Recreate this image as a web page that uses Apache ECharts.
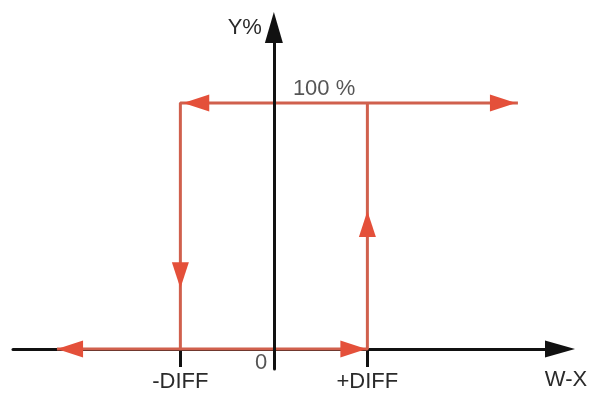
<!DOCTYPE html>
<html>
<head>
<meta charset="utf-8">
<script src="https://cdn.jsdelivr.net/npm/echarts@6/dist/echarts.min.js"></script>
<style>
html,body{margin:0;padding:0;background:#fff;}
#c{width:589px;height:394px;}
</style>
</head>
<body>
<div id="c"></div>
<script>
// Hysteresis (two-point controller) characteristic, x in units of DIFF, y in %
const xTickValues = [-1, 1];
const xTickLabels = ['-DIFF', '+DIFF'];
const originLabel = '0';
const levelLabel = '100 %';
const xName = 'W-X';
const yName = 'Y%';

// switching path: lower branch then rising edge at +DIFF
const pathRise = [[-2.32, 0], [1, 0], [1, 100]];
// upper branch then falling edge at -DIFF
const pathFall = [[2.61, 100], [-1, 100], [-1, 0]];

// arrowheads along the path: [x, y, rotation in degrees]
const arrowX = [-2.18, 0.85, -0.83, 2.45, -1, 1];
const arrowY = [0, 0, 100, 100, 30, 50.8];
const arrowRot = [90, -90, 90, -90, 180, 0];

const red = '#d0604d';
const redHead = '#e4503a';
const ink = '#111111';
const txt = '#2a2a2a';
const font = 'Liberation Sans, Arial, Helvetica, sans-serif';
const fs = 22;

const chart = echarts.init(document.getElementById('c'), null, {renderer: 'canvas'});
chart.setOption({
  animation: false,
  backgroundColor: '#ffffff',
  grid: {left: 13, right: 29, top: 27.5, bottom: 25, containLabel: false, outerBoundsMode: 'none'},
  xAxis: {
    type: 'value', min: -2.79, max: 3.06,
    splitLine: {show: false},
    axisLine: {onZero: true, lineStyle: {color: ink, width: 3}, symbol: ['none', 'triangle'], symbolSize: [17, 30]},
    axisTick: {show: true, customValues: xTickValues, length: 18, lineStyle: {color: ink, width: 3}},
    axisLabel: {
      show: true, customValues: xTickValues, margin: 2, color: txt, fontSize: fs, fontFamily: font,
      formatter: v => xTickLabels[xTickValues.indexOf(v)]
    },
    name: xName, nameLocation: 'end', nameGap: 6,
    nameTextStyle: {color: txt, fontSize: fs, fontFamily: font, align: 'center', verticalAlign: 'top', padding: [20, 0, 0, 0]}
  },
  yAxis: {
    type: 'value', min: -8.1, max: 130.7, z: 3,
    splitLine: {show: false},
    axisLine: {onZero: true, lineStyle: {color: ink, width: 3}, symbol: ['none', 'triangle'], symbolSize: [18, 31]},
    axisTick: {show: false},
    axisLabel: {show: false},
    name: yName, nameLocation: 'end', nameGap: 0,
    nameTextStyle: {color: txt, fontSize: fs, fontFamily: font, align: 'right', verticalAlign: 'middle', padding: [0, 12, 0, 0]}
  },
  series: [
    {
      type: 'line', data: pathRise, symbol: 'none', z: 2,
      lineStyle: {color: red, width: 3}
    },
    {
      type: 'line', data: pathFall, symbol: 'none', z: 2,
      lineStyle: {color: red, width: 3}
    },
    {
      type: 'scatter', z: 2,
      symbol: 'triangle', symbolSize: [17, 26],
      itemStyle: {color: redHead, opacity: 1},
      data: arrowX.map((x, i) => ({value: [x, arrowY[i]], symbolRotate: arrowRot[i]}))
    },
    {
      type: 'scatter', z: 4, symbolSize: 0, silent: true,
      data: [
        {value: [0, 100], label: {show: true, position: 'right', distance: 19, offset: [0, -14], formatter: levelLabel}},
        {value: [0, 0], label: {show: true, position: [-19, 3], formatter: originLabel}}
      ],
      label: {color: txt, fontSize: fs, fontFamily: font}
    }
  ]
});
</script>
</body>
</html>
